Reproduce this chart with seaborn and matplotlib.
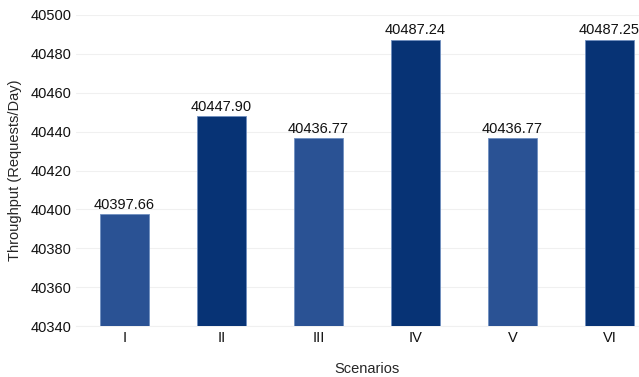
import matplotlib
matplotlib.use('Agg')
import matplotlib.pyplot as plt
import pandas as pd
import seaborn as sns

SCENARIOS = ['I', 'II', 'III', 'IV', 'V', 'VI']
THROUGHPUT = [40397.66, 40447.90, 40436.77, 40487.24, 40436.77, 40487.25]
BAR_COLORS = ['#2a5294', '#073375', '#2a5294', '#073375', '#2a5294', '#073375']
Y_TICKS = [40340, 40360, 40380, 40400, 40420, 40440, 40460, 40480, 40500]


def main():
    sns.set_style('white')
    plt.rcParams['font.family'] = ['Liberation Sans', 'DejaVu Sans']

    df = pd.DataFrame({'Scenario': SCENARIOS, 'Throughput': THROUGHPUT})

    fig = plt.figure(figsize=(6.39, 3.77), dpi=100)
    ax = fig.add_axes([76 / 639, 51 / 377, 582 / 639, 311 / 377])

    sns.barplot(data=df, x='Scenario', y='Throughput', hue='Scenario',
                palette=BAR_COLORS, saturation=1, width=0.5, legend=False, ax=ax,
                edgecolor='#6f8fc0', linewidth=0.6, zorder=3)

    ax.set_ylim(40340, 40500)
    ax.set_yticks(Y_TICKS)
    ax.set_xlim(-0.5, 5.5)
    ax.grid(axis='y', color='#f0f0f0', linewidth=0.8, zorder=0)
    ax.set_axisbelow(True)

    for i, v in enumerate(THROUGHPUT):
        ax.text(i, v + 1.2, f'{v:.2f}', ha='center', va='bottom', fontsize=10.5, color='#111111')

    ax.tick_params(axis='both', labelsize=10.5, length=0, colors='#111111')
    ax.set_xlabel('Scenarios', fontsize=10.5, labelpad=12)
    ax.set_ylabel('Throughput (Requests/Day)', fontsize=10.5, labelpad=6)

    sns.despine(ax=ax, left=True, right=True, top=True)
    ax.spines['bottom'].set_color('#f0f0f0')

    fig.savefig('out.png', dpi=100)
    plt.close(fig)


if __name__ == '__main__':
    main()
